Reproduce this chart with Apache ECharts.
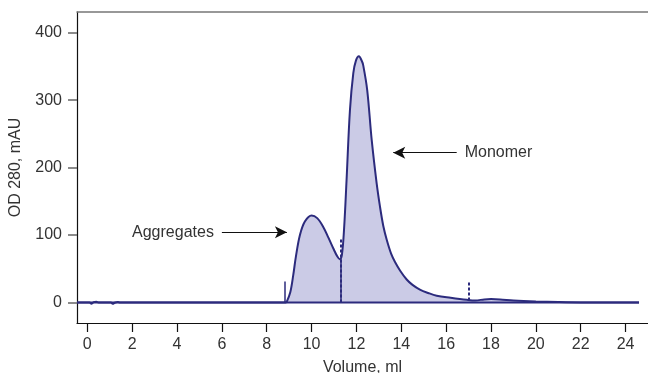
<!DOCTYPE html>
<html>
<head>
<meta charset="utf-8">
<script src="https://cdn.jsdelivr.net/npm/echarts@6/dist/echarts.min.js"></script>
<style>
  html, body { margin: 0; padding: 0; background: #fff; }
  #chart { width: 648px; height: 373px; }
</style>
</head>
<body>
<div id="chart"></div>
<script>
// elution profile, [volume ml, OD280 mAU]
const profile = [
  [-0.46, 0], [0.1, 0], [0.18, -2], [0.28, 0.5], [0.4, 1], [0.5, 0],
  [1.05, 0], [1.13, -2], [1.25, 0], [1.36, 0.5], [1.45, 0], [8.85, 0],
  [8.9, 1.5], [9.05, 15], [9.18, 40], [9.3, 68], [9.48, 100], [9.7, 120],
  [10.0, 129], [10.25, 125], [10.52, 112], [10.75, 96], [10.97, 80], [11.15, 68],
  [11.26, 64], [11.35, 70], [11.45, 110], [11.56, 182], [11.71, 285], [11.86, 340],
  [11.98, 359], [12.11, 365], [12.24, 358], [12.3, 352], [12.48, 315], [12.68, 241],
  [12.9, 177], [13.05, 142], [13.2, 113], [13.35, 93], [13.55, 72], [13.72, 60],
  [13.95, 47], [14.24, 34], [14.5, 26], [14.83, 19], [15.2, 14], [15.58, 10],
  [16.2, 7], [16.92, 4], [17.3, 3], [17.7, 4.5], [18.0, 5], [18.4, 4.5],
  [19.0, 3], [20.0, 1.5], [21.0, 0.5], [22.0, 0], [24.6, 0]
];
const baseline = [[-0.46, 0], [24.6, 0]];
const fillRange = [8.85, 20];

// fraction marks: x, bottom, top, style
const fractionMarks = [
  [8.82, 0, 31, 'solid'],
  [11.29, 0, 64, 'solid'],
  [11.29, 0, 94, 'dashed'],
  [17.02, 3, 32, 'dashed']
];

// annotations: text, tail, head
const annotations = [
  ['Aggregates', [6.0, 104], [8.9, 104]],
  ['Monomer', [16.47, 222], [13.64, 222]]
];

const xTicks = [0, 2, 4, 6, 8, 10, 12, 14, 16, 18, 20, 22, 24];
const yTicks = [0, 100, 200, 300, 400];

const navy = '#2c2b7d';
const font = 'Liberation Sans, Arial, sans-serif';

const chart = echarts.init(document.getElementById('chart'));

const markData = fractionMarks.map(([x, y0, y1, kind]) => [
  { coord: [x, y0], symbol: 'none', lineStyle: { color: navy, width: kind === 'dashed' ? 2 : 1.5, type: kind === 'dashed' ? [3, 2] : 'solid' } },
  { coord: [x, y1], symbol: 'none' }
]);
const arrowData = annotations.map(([text, tail, head]) => [
  {
    coord: tail, symbol: 'none',
    lineStyle: { color: '#111', width: 1.2, type: 'solid' },
    label: { show: true, position: 'start', distance: 8, formatter: text, color: '#333', fontSize: 16, fontFamily: font }
  },
  { coord: head, symbol: 'arrow', symbolSize: [9, 12] }
]);

chart.setOption({
  animation: false,
  grid: { left: 77, right: 0, top: 12, bottom: 50, outerBoundsMode: 'none' },
  xAxis: [{
    type: 'value',
    min: -0.46, max: 25.0,
    name: 'Volume, ml',
    nameLocation: 'middle',
    nameGap: 37,
    nameTextStyle: { color: '#333', fontSize: 16, fontFamily: font },
    splitLine: { show: false },
    axisLine: { onZero: false, lineStyle: { color: '#111', width: 1.2 } },
    axisTick: { show: true, length: 9, lineStyle: { color: '#111', width: 1.2 }, customValues: xTicks },
    axisLabel: { color: '#333', fontSize: 16, fontFamily: font, margin: 14, customValues: xTicks }
  }, {
    type: 'value',
    position: 'top',
    min: -0.46, max: 25.0,
    splitLine: { show: false },
    axisLine: { show: true, onZero: false, lineStyle: { color: '#777', width: 1.5 } },
    axisTick: { show: false },
    axisLabel: { show: false }
  }],
  yAxis: {
    type: 'value',
    min: -30.5, max: 430.7,
    name: 'OD 280, mAU',
    nameLocation: 'middle',
    nameGap: 53,
    nameTextStyle: { color: '#333', fontSize: 16, fontFamily: font },
    splitLine: { show: false },
    axisLine: { show: true, onZero: false, lineStyle: { color: '#111', width: 1.2 } },
    axisTick: { show: true, length: 9, lineStyle: { color: '#666', width: 1.5 }, customValues: yTicks },
    axisLabel: { color: '#333', fontSize: 16, fontFamily: font, margin: 15, customValues: yTicks }
  },
  series: [
    {
      type: 'line',
      data: profile.filter(p => p[0] >= fillRange[0] && p[0] <= fillRange[1]),
      smooth: 0.35,
      showSymbol: false,
      lineStyle: { width: 0 },
      areaStyle: { color: '#cbcbe6', opacity: 1 },
      silent: true
    },
    {
      type: 'line',
      data: baseline,
      showSymbol: false,
      lineStyle: { color: navy, width: 2 },
      silent: true,
      markLine: {
        silent: true,
        animation: false,
        symbol: 'none',
        label: { show: false },
        data: markData.concat(arrowData)
      }
    },
    {
      type: 'line',
      data: profile,
      smooth: 0.35,
      showSymbol: false,
      lineStyle: { color: navy, width: 2 },
      silent: true
    }
  ]
});
</script>
</body>
</html>
